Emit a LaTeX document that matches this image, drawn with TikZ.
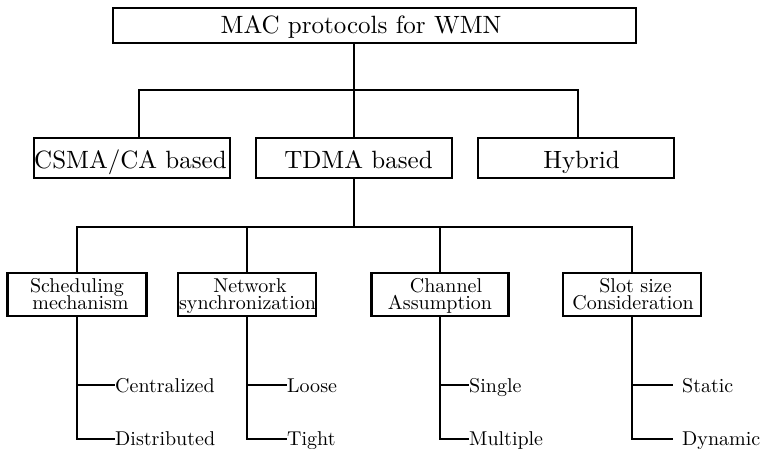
\documentclass[tikz,border=0pt]{standalone}
\usepackage{fontspec}
\setmainfont{lmroman10-regular}[Extension=.otf]
\begin{document}
\begin{tikzpicture}[x=1pt,y=-1pt,
  box/.style={draw, line width=2.5pt, inner sep=0pt},
  conn/.style={line width=2.1pt},
  big/.style={font=\fontsize{25}{30}\selectfont, inner sep=0pt},
  mid/.style={font={\fontsize{20}{17.5}\selectfont\lineskiplimit=-20pt}, inner sep=0pt, align=center, anchor=north},
  leaf/.style={font=\fontsize{20}{24}\selectfont, inner sep=0pt, text height=13.9pt, text depth=0pt},
]
\useasboundingbox (0,0) rectangle (763,448);

% level 1
\node[box, minimum width=523pt, minimum height=35pt] (top) at (374.5,25.5) {};
\node[big, anchor=base] (toptxt) at (361,33) {MAC protocols for WMN};

% level 2
\node[box, minimum width=196pt, minimum height=40pt] (csma) at (132,158) {};
\node[box, minimum width=196pt, minimum height=40pt] (tdma) at (354,158) {};
\node[box, minimum width=196pt, minimum height=40pt] (hyb) at (576,158) {};
\node[big, anchor=base] (csmatxt) at (130.5,168) {CSMA/CA based};
\node[big, anchor=base] (tdmatxt) at (358.5,168) {TDMA based};
\node[big, anchor=base] (hybtxt) at (581.5,168) {Hybrid};

% level 3
\node[box, minimum width=139pt, minimum height=43pt] (sch) at (77,294.5) {};
\node[box, minimum width=138pt, minimum height=43pt] (net) at (247,294.5) {};
\node[box, minimum width=137pt, minimum height=43pt] (chan) at (440,294.5) {};
\node[box, minimum width=138pt, minimum height=43pt] (slot) at (632,294.5) {};
\node[mid] (schtxt) at (77,278) {Scheduling\\\hspace*{7pt}mechanism};
\node[mid] (nettxt) at (247.5,278) {\hspace*{5pt}Network\\synchronization};
\node[mid] (chantxt) at (440,278) {\hspace*{12pt}Channel\\Assumption};
\node[mid] (slottxt) at (633,278) {\hspace*{5pt}Slot size\\Consideration};

% leaves
\node[leaf, anchor=base west] (cen) at (115,392) {Centralized};
\node[leaf, anchor=base west] (dis) at (115,445.5) {Distributed};
\node[leaf, anchor=base west] (loo) at (287,392) {Loose};
\node[leaf, anchor=base west] (tig) at (287,445.5) {Tight};
\node[leaf, anchor=base west] (sin) at (469,392) {Single};
\node[leaf, anchor=base west] (mul) at (469,445.5) {Multiple};
\node[leaf, anchor=base west, inner xsep=9pt] (sta) at (673,392) {Static};
\node[leaf, anchor=base west, inner xsep=9pt] (dyn) at (673,445.5) {Dynamic};

% connectors level 1 -> 2
\coordinate (j0) at (354,90);
\coordinate (jc) at (139,90);
\coordinate (jh) at (578,90);
\draw[conn] (top.south -| j0) -- (j0);
\draw[conn] (csma.north -| jc) |- (jh) -- (hyb.north -| jh);
\draw[conn] (j0) -- (tdma.north -| j0);

% connectors level 2 -> 3
\coordinate (k0) at (354,227);
\draw[conn] (tdma.south) -- (k0);
\draw[conn] (sch.north) |- (slot.north |- k0) -- (slot.north);
\draw[conn] (net.north |- k0) -- (net.north);
\draw[conn] (chan.north |- k0) -- (chan.north);

% connectors to leaves
\draw[conn] (sch.south) |- (dis.west);
\draw[conn] (sch.south |- cen.west) -- (cen.west);
\draw[conn] (net.south) |- (tig.west);
\draw[conn] (net.south |- loo.west) -- (loo.west);
\draw[conn] (chan.south) |- (mul.west);
\draw[conn] (chan.south |- sin.west) -- (sin.west);
\draw[conn] (slot.south) |- (dyn.west);
\draw[conn] (slot.south |- sta.west) -- (sta.west);
\end{tikzpicture}
\end{document}
